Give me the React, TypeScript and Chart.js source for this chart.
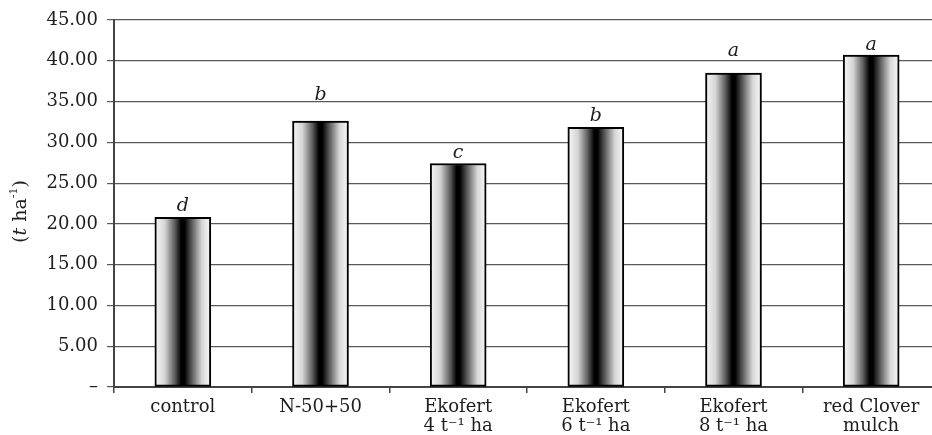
import React, { useEffect, useRef } from "react";
import { Chart, registerables } from "chart.js";

Chart.register(...registerables);

const categories: string[][] = [
  ["control"],
  ["N-50+50"],
  ["Ekofert", "4 t\u207B\u00B9 ha"],
  ["Ekofert", "6 t\u207B\u00B9 ha"],
  ["Ekofert", "8 t\u207B\u00B9 ha"],
  ["red Clover", "mulch"],
];
const yieldValues = [20.8, 32.6, 27.4, 31.85, 38.5, 40.7];
const letters = ["d", "b", "c", "b", "a", "a"];
// y value (t ha-1) at which each significance letter sits
const letterValues = [21.6, 35.2, 28.05, 32.6, 40.6, 41.3];
const yTicks = [0, 5, 10, 15, 20, 25, 30, 35, 40, 45];

const SERIF = "'DejaVu Serif', serif";
const TEXT = "#1e1e1e";

const letterPlugin = {
  id: "letters",
  afterDatasetsDraw(chart: any) {
    const ctx = chart.ctx;
    const meta = chart.getDatasetMeta(0);
    const ys = chart.scales.y;
    ctx.save();
    ctx.font = `italic 19px ${SERIF}`;
    ctx.fillStyle = TEXT;
    ctx.textAlign = "center";
    ctx.textBaseline = "alphabetic";
    meta.data.forEach((el: any, i: number) => {
      ctx.fillText(letters[i], el.x, ys.getPixelForValue(letterValues[i]));
    });
    ctx.restore();
  },
};

const yTitlePlugin = {
  id: "yTitle",
  afterDraw(chart: any) {
    const ctx = chart.ctx;
    const area = chart.chartArea;
    const cx = 21;
    const cy = (area.top + area.bottom) / 2 + 8;
    const normal = `19px ${SERIF}`;
    const italic = `italic 19px ${SERIF}`;
    const small = `11px ${SERIF}`;
    const segs: { t: string; f: string; dy: number }[] = [
      { t: "(", f: normal, dy: 0 },
      { t: "t", f: italic, dy: 0 },
      { t: " ha", f: normal, dy: 0 },
      { t: "-1", f: small, dy: -7 },
      { t: ")", f: normal, dy: 0 },
    ];
    ctx.save();
    let total = 0;
    const widths = segs.map((s) => {
      ctx.font = s.f;
      const w = ctx.measureText(s.t).width;
      total += w;
      return w;
    });
    ctx.translate(cx, cy);
    ctx.rotate(-Math.PI / 2);
    ctx.fillStyle = TEXT;
    ctx.textBaseline = "middle";
    ctx.textAlign = "left";
    let x = -total / 2;
    segs.forEach((s, i) => {
      ctx.font = s.f;
      ctx.fillText(s.t, x, s.dy);
      x += widths[i];
    });
    ctx.restore();
  },
};

export default function App() {
  const ref = useRef<HTMLCanvasElement | null>(null);

  useEffect(() => {
    if (!ref.current) return;
    const chart = new Chart(ref.current, {
      type: "bar",
      data: {
        labels: categories,
        datasets: [
          {
            data: yieldValues,
            backgroundColor: (c: any) => {
              const ch = c.chart;
              if (c.dataIndex === undefined || !ch.chartArea) return "#888";
              const xs = ch.scales.x;
              const cxp = xs.getPixelForValue(c.dataIndex);
              const half = 28;
              const g = ch.ctx.createLinearGradient(cxp - half, 0, cxp + half, 0);
              g.addColorStop(0, "#f8f8f8");
              g.addColorStop(0.18, "#d4d4d4");
              g.addColorStop(0.36, "#5a5a5a");
              g.addColorStop(0.47, "#000000");
              g.addColorStop(0.53, "#000000");
              g.addColorStop(0.66, "#5a5a5a");
              g.addColorStop(0.84, "#d6d6d6");
              g.addColorStop(1, "#fbfbfb");
              return g;
            },
            borderColor: "#000",
            borderWidth: 2,
            borderSkipped: false,
            barThickness: 56,
          } as any,
        ],
      },
      options: {
        animation: false,
        responsive: true,
        maintainAspectRatio: false,
        layout: { padding: { top: 20, left: 0, right: 0, bottom: 0 } },
        plugins: {
          legend: { display: false },
          tooltip: { enabled: false },
          title: { display: false },
        },
        scales: {
          x: {
            offset: true,
            afterFit: (s: any) => {
              s.height = 48;
            },
            grid: {
              offset: true,
              drawOnChartArea: false,
              drawTicks: true,
              tickLength: 6,
              color: "#444",
              lineWidth: 1.5,
            },
            border: { display: true, color: "#444", width: 2 },
            ticks: {
              color: TEXT,
              padding: 5,
              maxRotation: 0,
              autoSkip: false,
              font: { family: SERIF, size: 18, lineHeight: 1.05 },
            },
          },
          y: {
            min: 0,
            max: 45,
            afterFit: (s: any) => {
              s.width = 114;
            },
            afterBuildTicks: (s: any) => {
              s.ticks = yTicks.map((v) => ({ value: v }));
            },
            grid: {
              color: "#5a5a5a",
              lineWidth: 1.2,
              tickLength: 7,
            },
            border: { display: true, color: "#444", width: 2 },
            ticks: {
              color: TEXT,
              padding: 9,
              font: { family: SERIF, size: 18 },
              callback: (v: any) => (Number(v) === 0 ? "\u2013" : Number(v).toFixed(2)),
            },
          },
        },
      },
      plugins: [letterPlugin, yTitlePlugin],
    });
    return () => chart.destroy();
  }, []);

  return (
    <div
      style={{
        position: "fixed",
        left: 0,
        top: 0,
        width: 932,
        height: 435,
        overflow: "hidden",
        background: "#fff",
      }}
    >
      <div style={{ position: "relative", width: 940, height: 435 }}>
        <canvas ref={ref} />
      </div>
    </div>
  );
}
